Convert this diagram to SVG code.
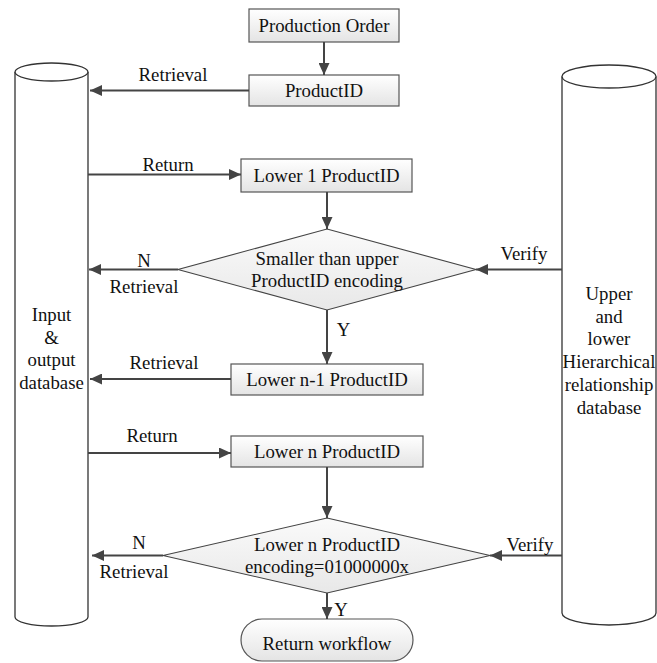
<svg xmlns="http://www.w3.org/2000/svg" width="657" height="663" viewBox="0 0 657 663">
  <defs>
    <linearGradient id="boxFill" x1="0" y1="0" x2="0" y2="1">
      <stop offset="0" stop-color="#ffffff"/>
      <stop offset="1" stop-color="#e4e4e4"/>
    </linearGradient>
    <linearGradient id="decFill" x1="0" y1="0" x2="0" y2="1">
      <stop offset="0" stop-color="#fafafa"/>
      <stop offset="1" stop-color="#e8e8e8"/>
    </linearGradient>
    <marker id="arrow" markerUnits="userSpaceOnUse" markerWidth="12" markerHeight="11" refX="12" refY="5.5" orient="auto">
      <path d="M0,0 L12,5.5 L0,11 z" fill="#444"/>
    </marker>
  </defs>
  <style>
    text { font-family: "Liberation Serif", "Times New Roman", serif; font-size: 18.8px; fill: #111; text-anchor: middle; }
    .box { fill: url(#boxFill); stroke: #555; stroke-width: 1.2; }
    .dec { fill: url(#decFill); stroke: #444; stroke-width: 1.1; }
    .db { fill: #fff; stroke: #333; stroke-width: 1.3; }
    .conn line { stroke: #444; stroke-width: 2; marker-end: url(#arrow); }
  </style>

  <rect width="657" height="663" fill="#fff"/>

  <!-- databases -->
  <g id="io-db">
    <path class="db" d="M15,72 L15,617 A36.5,9 0 0 0 88,617 L88,72"/>
    <ellipse class="db" cx="51.5" cy="72" rx="36.5" ry="9"/>
    <text x="51.5" y="321">Input</text>
    <text x="51.5" y="343.5">&amp;</text>
    <text x="51.5" y="366">output</text>
    <text x="51.5" y="388.5">database</text>
  </g>
  <g id="hier-db">
    <path class="db" d="M562,76.5 L562,613 A47,12 0 0 0 656,613 L656,76.5"/>
    <ellipse class="db" cx="609" cy="76.5" rx="47" ry="11.5"/>
    <text x="609" y="300">Upper</text>
    <text x="609" y="322.7">and</text>
    <text x="609" y="345.4">lower</text>
    <text x="609" y="368.1">Hierarchical</text>
    <text x="609" y="390.8">relationship</text>
    <text x="609" y="413.5">database</text>
  </g>

  <!-- process steps -->
  <g id="production-order">
    <rect class="box" x="249" y="9" width="150" height="33"/>
    <text x="324" y="32">Production Order</text>
  </g>
  <g id="product-id">
    <rect class="box" x="249" y="75" width="150" height="31"/>
    <text x="324" y="97">ProductID</text>
  </g>
  <g id="lower-1">
    <rect class="box" x="241" y="159" width="171" height="33"/>
    <text x="326.5" y="182">Lower 1 ProductID</text>
  </g>
  <g id="check-upper">
    <polygon class="dec" points="327,229 476,269.5 327,310 178,269.5"/>
    <text x="327" y="264.5">Smaller than upper</text>
    <text x="327" y="287">ProductID encoding</text>
  </g>
  <g id="lower-n-1">
    <rect class="box" x="231" y="364" width="192" height="31"/>
    <text x="327" y="386">Lower n-1 ProductID</text>
  </g>
  <g id="lower-n">
    <rect class="box" x="231" y="436" width="192" height="31"/>
    <text x="327" y="458">Lower n ProductID</text>
  </g>
  <g id="check-code">
    <polygon class="dec" points="327,518 490,555.5 327,593 163,555.5"/>
    <text x="327" y="551">Lower n ProductID</text>
    <text x="327" y="573">encoding=01000000x</text>
  </g>
  <g id="return-workflow">
    <rect class="box" x="241" y="619" width="172" height="42" rx="21" ry="21"/>
    <text x="327" y="650">Return workflow</text>
  </g>

  <!-- connectors -->
  <g id="connectors" class="conn">
    <line x1="324" y1="42" x2="324" y2="75"/>
    <line x1="249" y1="90.5" x2="90" y2="90.5"/>
    <line x1="88" y1="174.5" x2="241" y2="174.5"/>
    <line x1="327" y1="192" x2="327" y2="229"/>
    <line x1="178" y1="269.5" x2="89" y2="269.5"/>
    <line x1="562" y1="269.5" x2="476" y2="269.5"/>
    <line x1="327" y1="310" x2="327" y2="364"/>
    <line x1="231" y1="379" x2="90" y2="379"/>
    <line x1="88" y1="453" x2="231" y2="453"/>
    <line x1="327" y1="467" x2="327" y2="518"/>
    <line x1="163" y1="555.5" x2="92" y2="555.5"/>
    <line x1="562" y1="555.5" x2="490" y2="555.5"/>
    <line x1="327" y1="593" x2="327" y2="619"/>
  </g>

  <!-- connector labels -->
  <g id="labels">
    <text x="173" y="81">Retrieval</text>
    <text x="168" y="171">Return</text>
    <text x="144" y="267">N</text>
    <text x="144" y="293">Retrieval</text>
    <text x="524" y="260">Verify</text>
    <text x="343.5" y="335.5">Y</text>
    <text x="164" y="369">Retrieval</text>
    <text x="152" y="442">Return</text>
    <text x="139" y="549">N</text>
    <text x="134" y="578">Retrieval</text>
    <text x="530" y="551">Verify</text>
    <text x="341" y="616">Y</text>
  </g>
</svg>
